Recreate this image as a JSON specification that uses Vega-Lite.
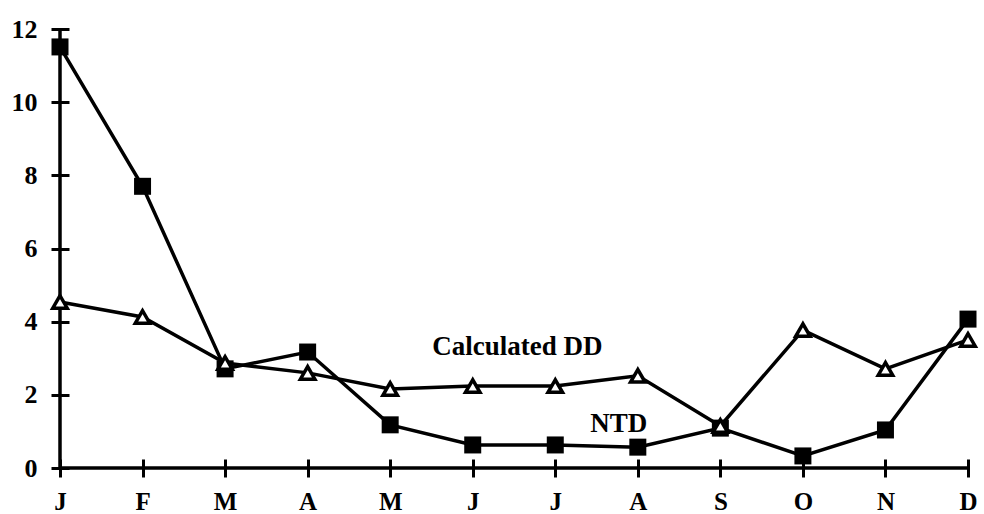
{
  "$schema": "https://vega.github.io/schema/vega-lite/v6.json",
  "width": 908,
  "height": 439,
  "autosize": {"type": "none"},
  "padding": {"left": 60, "top": 29, "right": 16, "bottom": 46},
  "background": "white",
  "config": {
    "view": {"stroke": null},
    "font": "Liberation Serif",
    "axis": {
      "title": null,
      "domain": false,
      "grid": false,
      "offset": -9,
      "ticks": true,
      "tickSize": 18,
      "tickWidth": 3,
      "tickColor": "black",
      "tickOpacity": 1,
      "labelFont": "Liberation Serif",
      "labelFontWeight": "bold",
      "labelColor": "black",
      "labelFlush": false,
      "labelOverlap": false,
      "zindex": 1
    },
    "axisX": {"labelPadding": 12, "labelFontSize": 25},
    "axisY": {"labelPadding": 14, "labelFontSize": 26}
  },
  "datasets": {
    "series": [
      {"m": 1, "series": "NTD", "value": 11.51},
      {"m": 2, "series": "NTD", "value": 7.7},
      {"m": 3, "series": "NTD", "value": 2.71},
      {"m": 4, "series": "NTD", "value": 3.17},
      {"m": 5, "series": "NTD", "value": 1.18},
      {"m": 6, "series": "NTD", "value": 0.63},
      {"m": 7, "series": "NTD", "value": 0.63},
      {"m": 8, "series": "NTD", "value": 0.57},
      {"m": 9, "series": "NTD", "value": 1.09},
      {"m": 10, "series": "NTD", "value": 0.33},
      {"m": 11, "series": "NTD", "value": 1.04},
      {"m": 12, "series": "NTD", "value": 4.07},
      {"m": 1, "series": "Calculated DD", "value": 4.54},
      {"m": 2, "series": "Calculated DD", "value": 4.13},
      {"m": 3, "series": "Calculated DD", "value": 2.87},
      {"m": 4, "series": "Calculated DD", "value": 2.6},
      {"m": 5, "series": "Calculated DD", "value": 2.16},
      {"m": 6, "series": "Calculated DD", "value": 2.24},
      {"m": 7, "series": "Calculated DD", "value": 2.24},
      {"m": 8, "series": "Calculated DD", "value": 2.52},
      {"m": 9, "series": "Calculated DD", "value": 1.15},
      {"m": 10, "series": "Calculated DD", "value": 3.77},
      {"m": 11, "series": "Calculated DD", "value": 2.71},
      {"m": 12, "series": "Calculated DD", "value": 3.5}
    ],
    "labels": [
      {"m": 6.54, "value": 3.09, "text": "Calculated DD"},
      {"m": 7.77, "value": 0.98, "text": "NTD"}
    ],
    "one": [{"k": 1}]
  },
  "layer": [
    {
      "data": {"name": "series"},
      "mark": {"type": "line", "stroke": "black", "strokeWidth": 3.5},
      "encoding": {
        "x": {
          "field": "m",
          "type": "quantitative",
          "scale": {"domain": [1, 12], "nice": false, "zero": false},
          "axis": {
            "values": [1, 2, 3, 4, 5, 6, 7, 8, 9, 10, 11, 12],
            "labelExpr": "['J','F','M','A','M','J','J','A','S','O','N','D'][datum.value - 1]"
          }
        },
        "y": {
          "field": "value",
          "type": "quantitative",
          "scale": {"domain": [0, 12], "nice": false},
          "axis": {"values": [0, 2, 4, 6, 8, 10, 12]}
        },
        "detail": {"field": "series"}
      }
    },
    {
      "data": {"name": "one"},
      "mark": {"type": "rule", "stroke": "black", "strokeWidth": 3.5},
      "encoding": {
        "x": {"datum": 1, "type": "quantitative"},
        "y": {"datum": 0, "type": "quantitative"},
        "y2": {"datum": 12}
      }
    },
    {
      "data": {"name": "one"},
      "mark": {"type": "rule", "stroke": "black", "strokeWidth": 3.5},
      "encoding": {
        "x": {"datum": 1, "type": "quantitative"},
        "x2": {"datum": 12},
        "y": {"datum": 0, "type": "quantitative"}
      }
    },
    {
      "data": {"name": "series"},
      "transform": [{"filter": "datum.series === 'NTD'"}],
      "mark": {"type": "point", "shape": "square", "filled": true, "fill": "black", "size": 289, "opacity": 1},
      "encoding": {
        "x": {"field": "m", "type": "quantitative"},
        "y": {"field": "value", "type": "quantitative"}
      }
    },
    {
      "data": {"name": "series"},
      "transform": [{"filter": "datum.series === 'Calculated DD'"}],
      "mark": {"type": "point", "shape": "triangle-up", "filled": true, "fill": "white", "stroke": "black", "strokeWidth": 3.5, "size": 210, "opacity": 1},
      "encoding": {
        "x": {"field": "m", "type": "quantitative"},
        "y": {"field": "value", "type": "quantitative"}
      }
    },
    {
      "data": {"name": "labels"},
      "mark": {"type": "text", "font": "Liberation Serif", "fontWeight": "bold", "fontSize": 27, "color": "black", "align": "center", "baseline": "alphabetic"},
      "encoding": {
        "x": {"field": "m", "type": "quantitative"},
        "y": {"field": "value", "type": "quantitative"},
        "text": {"field": "text"}
      }
    }
  ]
}
